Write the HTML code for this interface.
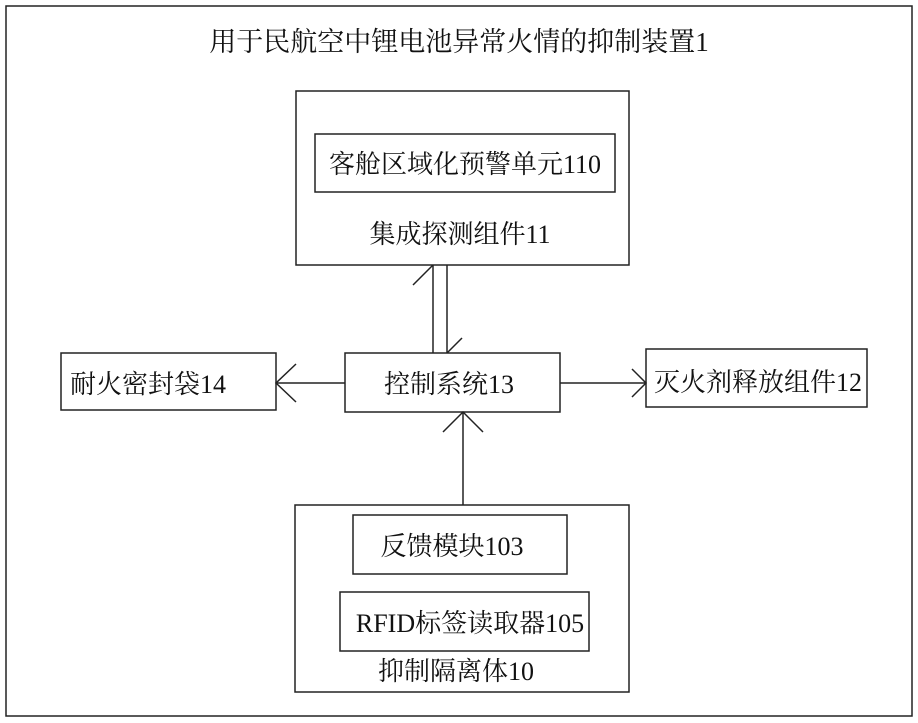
<!DOCTYPE html>
<html><head><meta charset="utf-8"><style>html,body{margin:0;padding:0;background:#fff}svg{display:block}text{font-family:"Liberation Serif","Noto Serif CJK SC","Noto Sans CJK SC",serif;font-size:26px;fill:#111}</style></head>
<body>
<svg width="918" height="723" viewBox="0 0 918 723" xmlns="http://www.w3.org/2000/svg">
<g fill="none" stroke="#222" stroke-width="1.5">
<rect x="6" y="6" width="906" height="710"/>
<rect x="296" y="91" width="333" height="174"/>
<rect x="315" y="134" width="300" height="58"/>
<rect x="345" y="353" width="215" height="59"/>
<rect x="61" y="353" width="215" height="57"/>
<rect x="646" y="349" width="221" height="58"/>
<rect x="295" y="505" width="334" height="187"/>
<rect x="353" y="515" width="214" height="59"/>
<rect x="340" y="592" width="249" height="59"/>
<line x1="433" y1="265" x2="433" y2="353"/>
<line x1="433" y1="265" x2="413" y2="285"/>
<line x1="447" y1="265" x2="447" y2="353"/>
<line x1="447" y1="353" x2="462" y2="338"/>
<line x1="345" y1="383" x2="276" y2="383"/>
<polyline points="296,364 276,383 296,402"/>
<line x1="560" y1="383" x2="646" y2="383"/>
<polyline points="632,369 646,383 632,397"/>
<line x1="463" y1="505" x2="463" y2="412"/>
<polyline points="443,432 463,412 483,432"/>
</g>
<text x="459" y="51" text-anchor="middle" style="font-size:27px">用于民航空中锂电池异常火情的抑制装置1</text>
<text x="465" y="173" text-anchor="middle">客舱区域化预警单元110</text>
<text x="460" y="243" text-anchor="middle">集成探测组件11</text>
<text x="449" y="393" text-anchor="middle">控制系统13</text>
<text x="148" y="393" text-anchor="middle">耐火密封袋14</text>
<text x="758" y="391" text-anchor="middle">灭火剂释放组件12</text>
<text x="452" y="555" text-anchor="middle">反馈模块103</text>
<text x="470" y="632" text-anchor="middle">RFID标签读取器105</text>
<text x="456" y="680" text-anchor="middle">抑制隔离体10</text>
</svg>
</body></html>
